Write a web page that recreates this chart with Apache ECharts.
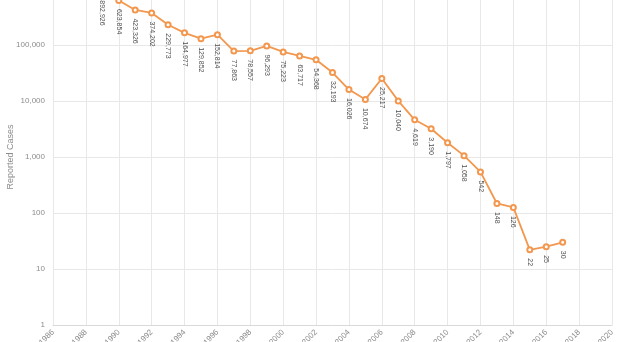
<!DOCTYPE html>
<html>
<head>
<meta charset="utf-8">
<script src="https://cdn.jsdelivr.net/npm/echarts@6/dist/echarts.min.js"></script>
<style>html,body{margin:0;padding:0;background:#fff;}#c{width:620px;height:342px;}</style>
</head>
<body>
<div id="c"></div>
<script>
const years = [1989,1990,1991,1992,1993,1994,1995,1996,1997,1998,1999,2000,2001,2002,2003,2004,2005,2006,2007,2008,2009,2010,2011,2012,2013,2014,2015,2016,2017];
const cases = [892926,623854,423326,374202,229773,164977,129852,152814,77863,78557,96293,75223,63717,54368,32193,16026,10674,25217,10040,4619,3190,1797,1058,542,148,126,22,25,30];
const yAxisName = 'Reported Cases';

const data = years.map((y, i) => [y, cases[i]]);
const chart = echarts.init(document.getElementById('c'), null, {renderer: 'canvas'});
chart.setOption({
  animation: false,
  grid: {left: 53, right: 8, top: -11, bottom: 17, containLabel: false, outerBoundsMode: 'none'},
  xAxis: {
    type: 'value', min: 1986, max: 2020, interval: 2,
    axisLine: {show: true, lineStyle: {color: '#d9d9d9'}},
    axisTick: {show: false},
    splitLine: {show: true, lineStyle: {color: '#e8e8e8', width: 1}},
    axisLabel: {rotate: 45, color: '#8c8c8c', fontSize: 8, margin: 6, fontFamily: 'Liberation Sans', formatter: v => String(v)}
  },
  yAxis: {
    type: 'log', min: 1, max: 1000000, logBase: 10,
    name: yAxisName, nameLocation: 'middle', nameGap: 38, nameRotate: 90, nameMoveOverlap: false,
    nameTextStyle: {color: '#8c8c8c', fontSize: 9, fontFamily: 'Liberation Sans'},
    axisLine: {show: false},
    axisTick: {show: false},
    splitLine: {show: true, lineStyle: {color: '#e8e8e8', width: 1}},
    axisLabel: {color: '#8c8c8c', fontSize: 8, margin: 8, fontFamily: 'Liberation Sans',
      formatter: v => Number(v).toLocaleString('en-US')}
  },
  series: [{
    type: 'line', data: data,
    lineStyle: {color: '#F3974E', width: 1.8},
    itemStyle: {color: '#F3974E', borderColor: '#F3974E', borderWidth: 1},
    symbol: 'emptyCircle', symbolSize: 5,
    label: {
      show: true, position: 'bottom', rotate: -90, align: 'left', verticalAlign: 'middle',
      distance: 5, fontSize: 7, color: '#505050', fontFamily: 'Liberation Sans',
      formatter: p => p.value[1].toLocaleString('en-US')
    }
  }]
});
</script>
</body>
</html>
